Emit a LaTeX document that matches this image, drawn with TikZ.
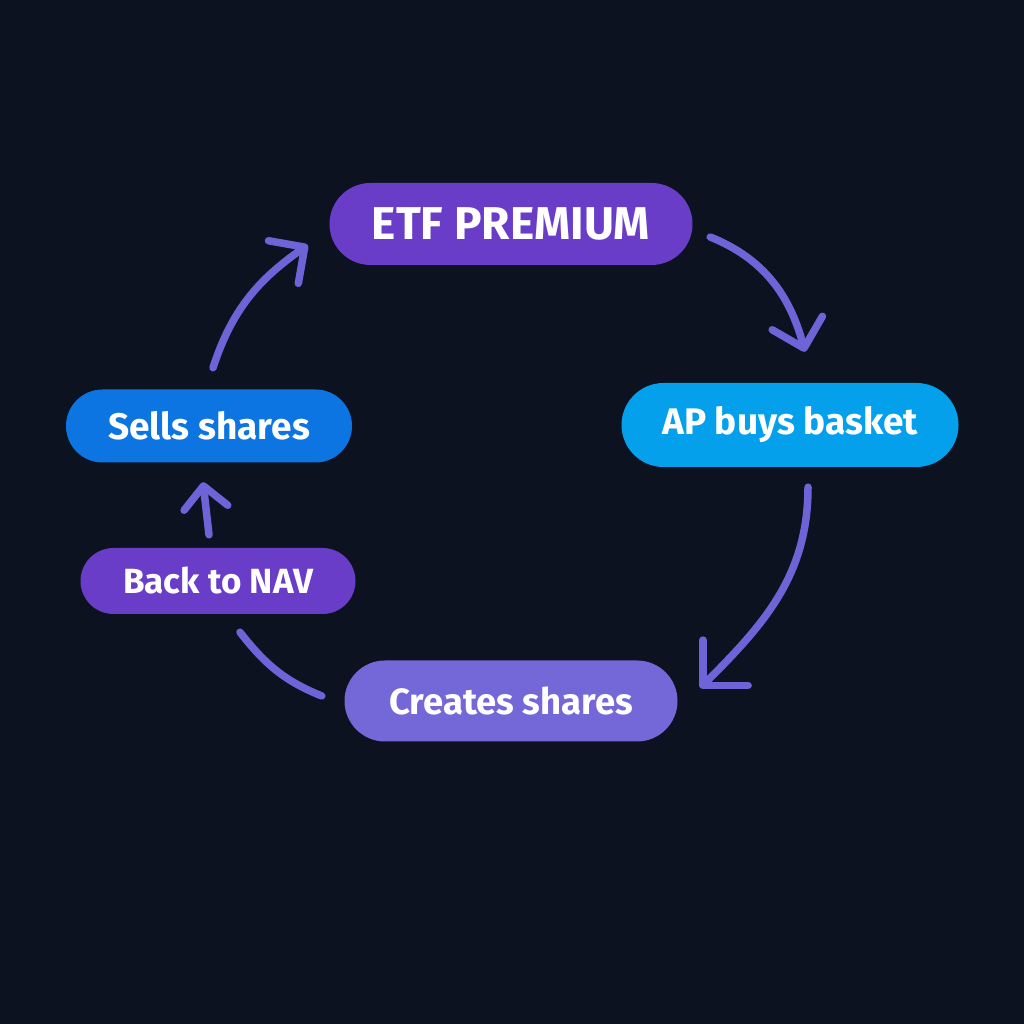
\documentclass[tikz,border=0pt]{standalone}
\usepackage{fontspec}
\setmainfont{Fira Sans}
\usetikzlibrary{shapes.misc,arrows.meta}
\definecolor{bg}{RGB}{12,18,32}
\definecolor{purp}{RGB}{106,61,200}
\definecolor{blueA}{RGB}{13,117,226}
\definecolor{blueB}{RGB}{4,160,235}
\definecolor{lav}{RGB}{116,104,216}
\definecolor{arr}{RGB}{110,100,215}
\tikzset{
  pill/.style={rounded rectangle, inner sep=0pt, text=white, font=\bfseries},
  flow/.style={draw=arr, line width=7.5pt, line cap=round, line join=round},
  tipped/.style={flow, -{Straight Barb[length=#1, width=2*#1, line cap=round, line join=round]}},
}
\begin{document}
\begin{tikzpicture}[x=1pt,y=1pt]
\fill[bg] (0,0) rectangle (1024,1024);
\useasboundingbox (0,0) rectangle (1024,1024);
\node[pill, fill=purp, minimum width=363pt, minimum height=82pt, font=\bfseries\fontsize{46}{46}\selectfont] (etf) at (511,800) {ETF PREMIUM};
\node[pill, fill=blueA, minimum width=286pt, minimum height=73pt, font=\bfseries\fontsize{37}{37}\selectfont] (sells) at (209,598) {Sells shares};
\node[pill, fill=blueB, minimum width=337pt, minimum height=84pt, font=\bfseries\fontsize{37}{37}\selectfont] (ap) at (790,599) {AP buys basket};
\node[pill, fill=purp, minimum width=275pt, minimum height=66pt, font=\bfseries\fontsize{35}{35}\selectfont] (nav) at (218,443) {Back to NAV};
\node[pill, fill=lav, minimum width=333pt, minimum height=81pt, font=\bfseries\fontsize{36.5}{36.5}\selectfont] (creates) at (511,323) {Creates shares};
% connectors
\draw[tipped=26pt] ([shift={(4,21.5)}]sells.north) to[out=72, in=215] ([shift={(-21.5,-21)}]etf.west);
\draw[tipped=26pt] ([shift={(17.5,-13)}]etf.east) to[out=-22, in=105] ([shift={(15,31)}]ap.north);
\draw[tipped=32pt] ([shift={(18,-20)}]ap.south) to[out=-90, in=45] ([shift={(22.5,13)}]creates.east);
\draw[flow] ([shift={(-22.5,5)}]creates.west) to[out=158, in=-52] ([shift={(22,-18)}]nav.south);
\draw[tipped=22pt] ([shift={(-9,13)}]nav.north) -- ([shift={(-6,-19.5)}]sells.south);
\end{tikzpicture}
\end{document}
